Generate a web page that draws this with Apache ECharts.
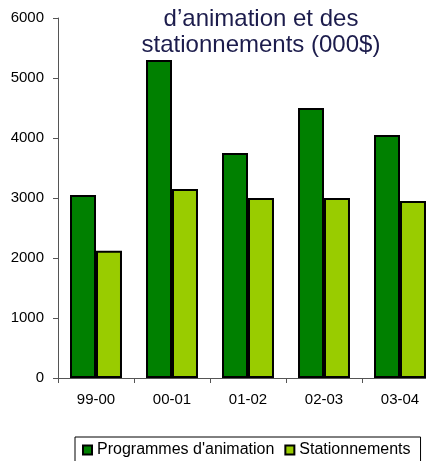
<!DOCTYPE html>
<html>
<head>
<meta charset="utf-8">
<script src="https://cdn.jsdelivr.net/npm/echarts@6/dist/echarts.min.js"></script>
<style>
  html, body { margin: 0; padding: 0; background: #fff; }
  #chart { width: 426px; height: 461px; }
</style>
</head>
<body>
<div id="chart"></div>
<script>
// Budget par exercice financier (000$)
const categories = ['99-00', '00-01', '01-02', '02-03', '03-04'];
const programmes = [3050, 5300, 3750, 4500, 4050];
const stationnements = [2120, 3150, 3000, 3000, 2950];
const yTicks = { min: 0, max: 6000, interval: 1000 };
const titleLines = ['d\u2019animation et des', 'stationnements (000$)'];

const FONT = 'Liberation Sans, Arial, sans-serif';
const chart = echarts.init(document.getElementById('chart'), null, { renderer: 'canvas' });

const barBorder = { borderColor: '#000', borderWidth: 2 };

chart.setOption({
  animation: false,
  backgroundColor: '#fff',
  graphic: [{
    type: 'text',
    x: 261,
    y: 6,
    style: {
      text: titleLines.join('\n'),
      fill: '#1c1c4c',
      font: '24px ' + FONT,
      lineHeight: 26,
      textAlign: 'center',
      textVerticalAlign: 'top'
    }
  }],
  grid: {
    left: 58,
    top: 18,
    right: -12,
    bottom: 83,
    containLabel: false,
    outerBoundsMode: 'none'
  },
  legend: {
    left: 75,
    top: 437,
    orient: 'horizontal',
    itemWidth: 9,
    itemHeight: 9,
    itemGap: 10,
    padding: [5, 10, 20, 7],
    borderColor: '#000',
    borderWidth: 1,
    textStyle: { fontFamily: FONT, fontSize: 16, color: '#000' },
    data: [
      { name: 'Programmes d\'animation', icon: 'rect' },
      { name: 'Stationnements', icon: 'rect' }
    ]
  },
  xAxis: {
    type: 'category',
    data: categories,
    boundaryGap: true,
    axisLine: { lineStyle: { color: '#555', width: 1 } },
    axisTick: { show: true, length: 5, inside: false, lineStyle: { color: '#555' } },
    axisLabel: { fontFamily: FONT, fontSize: 15, color: '#000', margin: 14 },
    splitLine: { show: false }
  },
  yAxis: {
    type: 'value',
    min: yTicks.min,
    max: yTicks.max,
    interval: yTicks.interval,
    axisLine: { show: true, lineStyle: { color: '#555', width: 1 } },
    axisTick: { show: true, length: 5, lineStyle: { color: '#555' } },
    axisLabel: {
      fontFamily: FONT, fontSize: 15, color: '#000', margin: 14,
      formatter: (v) => String(v)
    },
    splitLine: { show: false }
  },
  series: [
    {
      name: 'Programmes d\'animation',
      type: 'bar',
      data: programmes,
      barGap: '0%',
      barCategoryGap: '31.6%',
      itemStyle: Object.assign({ color: '#008000' }, barBorder)
    },
    {
      name: 'Stationnements',
      type: 'bar',
      data: stationnements,
      barGap: '0%',
      barCategoryGap: '31.6%',
      itemStyle: Object.assign({ color: '#99cc00' }, barBorder)
    }
  ]
});
</script>
</body>
</html>
